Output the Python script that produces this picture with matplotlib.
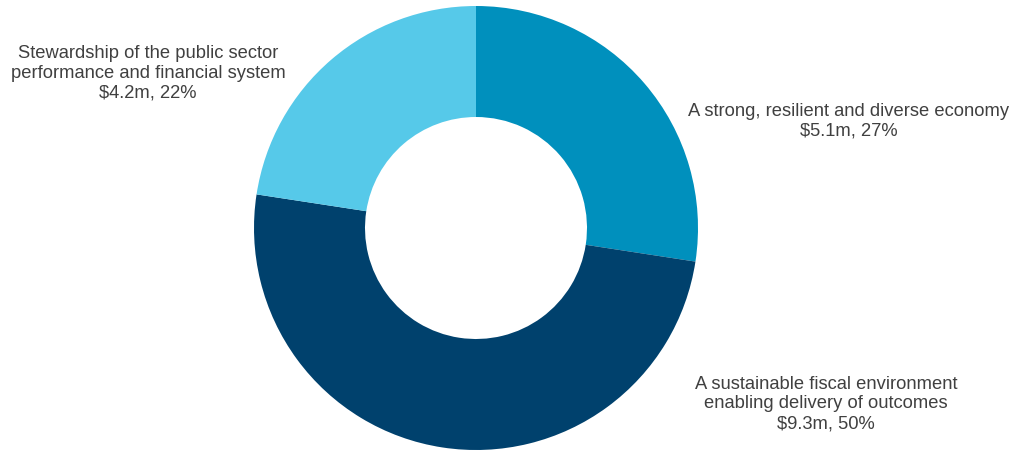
import matplotlib.pyplot as plt

plt.rcParams['font.family'] = ['Liberation Sans', 'DejaVu Sans']

values = [5.1, 9.3, 4.2]
shares = [27, 50, 22]
names = ['A strong, resilient and diverse economy',
         'A sustainable fiscal environment\nenabling delivery of outcomes',
         'Stewardship of the public sector\nperformance and financial system']
colors = ['#0090bd', '#00416d', '#56c9e9']

W, H = 1019, 452
cx, cy, r = 476, 229, 222

fig = plt.figure(figsize=(W / 100, H / 100), dpi=100)
ax = fig.add_axes([(cx - r) / W, (H - cy - r) / H, 2 * r / W, 2 * r / H])
ax.pie(values, colors=colors, startangle=90, counterclock=False, radius=1,
       wedgeprops=dict(width=0.5, edgecolor='none'))
ax.set_xlim(-1, 1)
ax.set_ylim(-1, 1)
ax.set_aspect('equal')
ax.axis('off')

# label positions in pixels (centre of text block)
label_px = [(849, 121), (826, 404), (148, 73)]
for name, v, s, (px, py) in zip(names, values, shares, label_px):
    ax.text((px - cx) / r, (cy - py) / r, f'{name}\n${v}m, {s}%',
            ha='center', va='center', fontsize=13.2, color='#404040',
            linespacing=1.22, clip_on=False)

fig.savefig('out.png', dpi=100)
